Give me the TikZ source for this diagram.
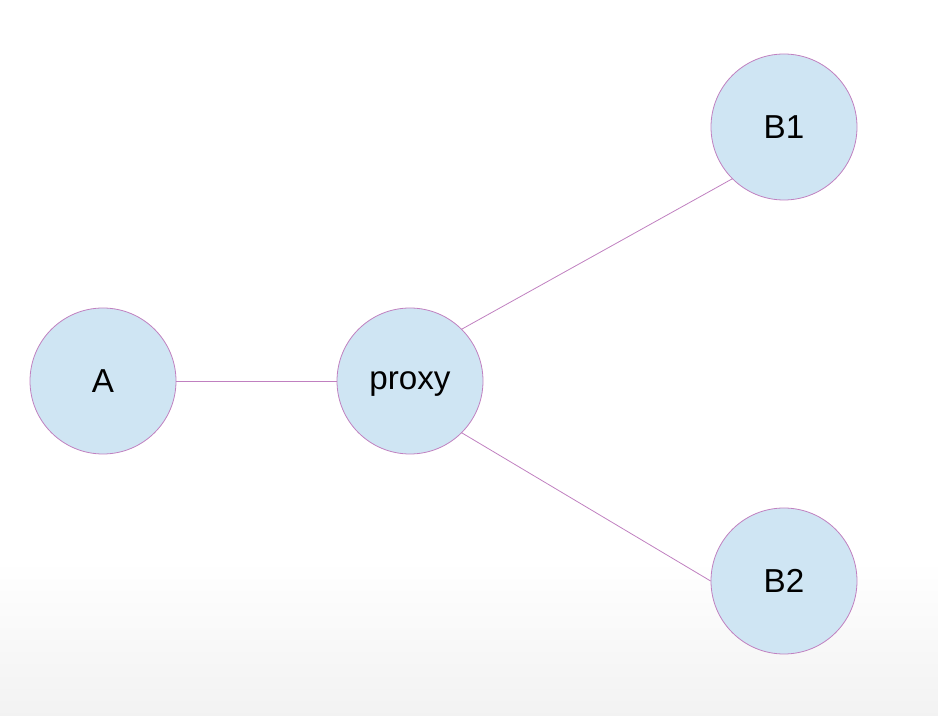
\documentclass[tikz,border=0pt]{standalone}
\usepackage{fontspec}
\setmainfont{Liberation Sans}
\usetikzlibrary{positioning,calc}

\definecolor{nodeFill}{HTML}{CFE5F3}
\definecolor{nodeEdge}{HTML}{C080C0}

\begin{document}
\begin{tikzpicture}[
    x=0.5pt, y=-0.5pt,
    font=\fontsize{16.6}{19}\selectfont,
    peer/.style ={circle,draw=nodeEdge,fill=nodeFill,line width=0.4pt,
                  minimum size=73pt,inner sep=0pt,text depth=0pt},
    link/.style ={draw=nodeEdge,line width=0.4pt},
]

% ---------- Canvas (same proportions as the page) ----------
\useasboundingbox (0,0) rectangle (938,716);
\shade[top color=white, bottom color=black!5, draw=none] (0,560) rectangle (938,716);

% ---------- Nodes ----------
\node[peer] (A)     at (103,381) {A};
\node[peer] (proxy) at ([xshift=153.5pt]A.center) {proxy};
\node[peer] (B1)    at (784,127) {B1};
\node[peer] (B2)    at (784,581) {B2};

% ---------- Links ----------
\draw[link] (A.east) -- (proxy.west);
\draw[link] (proxy.45) -- (B1.225);
\draw[link] (proxy.-45) -- (B2.west);

\end{tikzpicture}
\end{document}
